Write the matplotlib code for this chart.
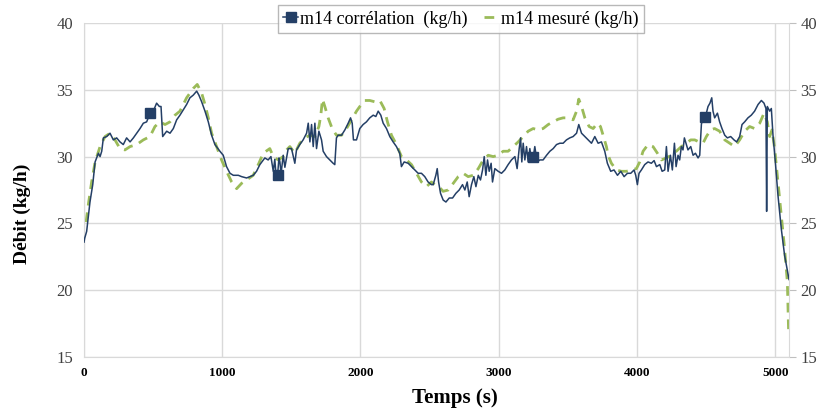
import matplotlib
matplotlib.use("Agg")
import matplotlib.pyplot as plt

plt.rcParams['font.family'] = ['Liberation Serif', 'DejaVu Serif']

# m14 corrélation (kg/h)
blue_t = [0, 5, 19, 43, 63, 80, 104, 116, 128, 140, 164, 188, 212, 236, 260, 284, 308, 333, 357, 381,
          405, 429, 453, 480, 501, 525, 545, 557, 569, 598, 622, 646, 670, 694, 718, 742, 766, 790, 815, 831,
          851, 875, 899, 923, 947, 983, 1007, 1031, 1056, 1080, 1116, 1140, 1176, 1200, 1224, 1248, 1272, 1308,
          1332, 1352, 1369, 1380, 1390, 1400, 1410, 1417, 1425, 1441, 1453, 1465, 1477, 1501, 1525, 1537, 1561,
          1585, 1610, 1622, 1634, 1646, 1658, 1670, 1682, 1699, 1718, 1730, 1754, 1778, 1802, 1814, 1826, 1838,
          1863, 1887, 1911, 1928, 1940, 1949, 1971, 1995, 2019, 2043, 2067, 2092, 2111, 2128, 2147, 2164, 2188,
          2212, 2236, 2260, 2284, 2296, 2316, 2345, 2369, 2393, 2417, 2441, 2465, 2489, 2513, 2526, 2545, 2555,
          2565, 2579, 2598, 2618, 2642, 2666, 2690, 2714, 2738, 2755, 2772, 2786, 2803, 2820, 2835, 2852, 2868,
          2883, 2895, 2907, 2919, 2931, 2945, 2955, 2972, 2996, 3020, 3044, 3068, 3092, 3117, 3133, 3148, 3158,
          3167, 3177, 3189, 3201, 3213, 3225, 3237, 3250, 3261, 3278, 3297, 3321, 3346, 3370, 3394, 3418, 3442,
          3466, 3490, 3514, 3538, 3563, 3579, 3599, 3623, 3647, 3671, 3695, 3719, 3743, 3767, 3786, 3810, 3834,
          3859, 3883, 3907, 3931, 3955, 3979, 3991, 4003, 4015, 4032, 4056, 4080, 4104, 4124, 4141, 4165, 4182,
          4201, 4213, 4225, 4242, 4256, 4271, 4283, 4297, 4309, 4321, 4333, 4343, 4357, 4369, 4389, 4406, 4423,
          4442, 4454, 4466, 4478, 4490, 4502, 4514, 4528, 4541, 4550, 4562, 4582, 4598, 4615, 4635, 4654, 4678,
          4702, 4721, 4743, 4760, 4779, 4803, 4827, 4851, 4876, 4900, 4919, 4933, 4938, 4943, 4960, 4972, 4984,
          5001, 5020, 5044, 5068, 5100]
blue_v = [23.6, 23.9, 24.4, 26.6, 27.9, 29.6, 30.25, 30.0, 30.4, 31.4, 31.5, 31.75, 31.25, 31.4, 31.1, 30.9, 31.4, 31.1, 31.4, 31.75,
          32.1, 32.5, 32.6, 33.3, 33.4, 34.0, 33.75, 33.75, 31.5, 31.9, 31.75, 32.1, 32.75, 33.1, 33.5, 33.9, 34.4, 34.6, 34.9, 34.6,
          34.1, 33.4, 32.6, 31.6, 30.9, 30.4, 30.1, 29.25, 28.75, 28.6, 28.6, 28.5, 28.4, 28.5, 28.6, 28.9, 29.4, 29.9,
          29.75, 30.0, 28.9, 29.8, 28.5, 28.6, 29.9, 29.6, 28.7, 30.1, 29.2, 29.9, 30.6, 30.6, 29.5, 30.5, 30.9,
          31.25, 31.75, 32.5, 31.1, 32.4, 30.75, 32.5, 30.6, 31.9, 31.25, 30.4, 30.0, 29.75, 29.5, 29.4, 31.4, 31.6,
          31.6, 32.0, 32.5, 32.9, 32.5, 31.25, 31.25, 32.1, 32.4, 32.6, 32.9, 33.1, 33.0, 33.4, 33.1, 32.5, 32.1,
          31.5, 31.1, 30.75, 30.25, 29.25, 29.6, 29.5, 29.25, 29.0, 28.75, 28.75, 28.5, 28.1, 27.9, 27.9, 28.6, 29.1,
          28.1, 27.25, 26.75, 26.6, 26.9, 26.9, 27.25, 27.5, 27.9, 27.5, 28.1, 27.0, 27.9, 28.5, 27.75, 28.6, 28.25,
          29.0, 30.0, 28.6, 29.75, 28.9, 29.5, 28.1, 29.1, 28.9, 28.75, 29.0, 29.4, 29.75, 30.0, 29.1, 30.6, 31.4,
          29.6, 31.0, 29.75, 30.75, 29.6, 30.6, 29.7, 30.0, 30.75, 29.6, 29.75, 29.75, 30.1, 30.4, 30.6, 30.9, 31.0,
          31.0, 31.25, 31.4, 31.5, 31.75, 32.4, 31.75, 31.5, 31.25, 31.0, 31.5, 31.0, 31.1, 30.4, 29.5, 28.9, 29.0,
          28.6, 28.9, 28.5, 28.75, 28.75, 29.0, 28.6, 27.9, 28.75, 29.0, 29.4, 29.6, 29.5, 29.7, 29.25, 29.4, 28.9,
          29.0, 30.75, 28.9, 30.1, 29.0, 31.0, 29.25, 30.1, 29.75, 30.75, 30.5, 31.4, 30.9, 30.5, 30.75, 30.1, 30.25,
          29.9, 30.1, 32.4, 33.1, 33.0, 33.25, 33.75, 34.0, 34.4, 33.4, 32.9, 33.25, 32.6, 32.1, 31.6, 31.4, 31.5,
          31.25, 31.1, 31.5, 32.4, 32.6, 32.9, 33.1, 33.4, 33.9, 34.2, 34.0, 33.6, 25.9, 33.75, 33.4, 33.6, 31.6,
          29.6, 27.1, 24.6, 22.6, 20.8]
marker_t = [480, 1400, 3250, 4490]

# m14 mesuré (kg/h)
green_t = [15, 31, 55, 80, 116, 152, 188, 224, 260, 296, 333, 381, 429, 477, 513, 549, 586, 622, 658, 694,
           742, 790, 819, 851, 875, 899, 923, 959, 995, 1031, 1068, 1104, 1140, 1176, 1224, 1265, 1296, 1344,
           1369, 1405, 1441, 1465, 1489, 1525, 1561, 1597, 1634, 1670, 1699, 1713, 1725, 1742, 1766, 1795, 1826,
           1863, 1899, 1935, 1971, 1995, 2031, 2067, 2104, 2140, 2171, 2195, 2224, 2260, 2296, 2333, 2369, 2405,
           2441, 2477, 2513, 2537, 2562, 2598, 2635, 2671, 2707, 2743, 2779, 2815, 2852, 2888, 2924, 2960, 2996,
           3032, 3068, 3105, 3141, 3177, 3213, 3249, 3285, 3321, 3358, 3394, 3430, 3466, 3502, 3538, 3563, 3579,
           3599, 3623, 3654, 3683, 3714, 3736, 3755, 3779, 3791, 3815, 3851, 3887, 3924, 3960, 3996, 4020, 4044,
           4080, 4116, 4148, 4177, 4213, 4249, 4285, 4321, 4357, 4389, 4418, 4449, 4478, 4502, 4533, 4562, 4598,
           4635, 4671, 4707, 4743, 4779, 4815, 4851, 4888, 4919, 4943, 4960, 4977, 4996, 5020, 5044, 5068, 5088,
           5097]
green_v = [25.1, 26.4, 28.1, 29.6, 30.75, 31.5, 31.75, 31.25, 30.6, 30.5, 30.75, 30.9, 31.25, 31.5, 32.25, 32.6, 32.4, 32.6, 33.1, 33.4,
           34.4, 35.1, 35.4, 34.75, 33.9, 32.9, 31.75, 30.75, 29.75, 28.9, 28.1, 27.6, 28.0, 28.25, 28.6, 29.5, 30.25, 30.6,
           30.0, 29.75, 30.0, 30.5, 30.75, 30.25, 31.0, 31.4, 31.6, 31.5, 32.25, 33.1, 34.3, 33.75, 32.9, 32.1, 31.6,
           31.6, 32.1, 32.75, 33.4, 33.75, 34.2, 34.2, 34.1, 34.2, 33.6, 32.6, 31.6, 30.9, 30.0, 29.75, 29.4, 28.75,
           28.1, 27.75, 28.1, 27.9, 27.8, 27.4, 27.5, 28.0, 28.5, 28.75, 28.5, 28.6, 29.1, 29.75, 30.1, 30.0, 30.1,
           30.4, 30.4, 30.75, 31.1, 31.5, 31.9, 32.1, 32.0, 32.1, 32.4, 32.6, 32.8, 32.9, 32.9, 32.75, 33.4, 34.3,
           33.75, 32.9, 32.25, 32.1, 32.5, 32.25, 31.6, 30.75, 30.1, 29.5, 29.0, 28.9, 28.9, 29.0, 29.1, 29.6, 30.4,
           30.9, 30.75, 30.25, 29.75, 29.9, 30.1, 30.4, 30.75, 31.0, 31.25, 31.25, 31.1, 31.0, 31.5, 32.0, 32.1, 31.9,
           31.25, 31.0, 30.75, 31.25, 31.9, 32.25, 32.1, 32.5, 33.25, 32.6, 31.5, 32.0, 30.6, 28.1, 25.6, 23.1, 20.6,
           16.9]

y_ticks = [15, 20, 25, 30, 35, 40]
x_ticks = [0, 1000, 2000, 3000, 4000, 5000]

blue = '#243f66'
green = '#9bbb59'
grid_c = '#d9d9d9'

fig = plt.figure(figsize=(8.19, 4.12), dpi=100)
ax = fig.add_axes([0.1026, 0.1335, 0.8608, 0.8107])

marks = [blue_t.index(t) for t in marker_t]
ax.plot(blue_t, blue_v, color=blue, lw=1.1, marker='s', markersize=7,
        markevery=marks, label='m14 corrélation  (kg/h)', zorder=3)
ax.plot(green_t, green_v, color=green, lw=2, dashes=(3.5, 2.5),
        label='m14 mesuré (kg/h)', zorder=2)

ax.set_xlim(0, 5100)
ax.set_ylim(15, 40)
ax.set_xticks(x_ticks)
ax.set_yticks(y_ticks)
ax.grid(True, color=grid_c, lw=1)
ax.set_axisbelow(True)
for s in ax.spines.values():
    s.set_color(grid_c)
ax.spines['top'].set_visible(False)

ax.tick_params(axis='y', left=False, right=True, labelleft=True, labelright=True,
               direction='out', length=5, color='#bfbfbf', labelsize=12, labelcolor='#404040', pad=3)
ax.tick_params(axis='x', bottom=False, labelsize=9.5, pad=4)
for lb in ax.get_xticklabels():
    lb.set_fontweight('bold')

ax.set_xlabel('Temps (s)', fontsize=15, fontweight='bold')
ax.set_ylabel('Débit (kg/h)', fontsize=14, fontweight='bold')
ax.xaxis.set_label_coords(0.526, -0.092)
ax.yaxis.set_label_coords(-0.075, 0.428)

leg = fig.legend(loc='center', bbox_to_anchor=(0.563, 0.954), ncol=2, fontsize=13,
                 frameon=True, fancybox=False, edgecolor='#a6a6a6', handlelength=0.8,
                 handletextpad=0.15, columnspacing=0.9, borderpad=0.3)
leg.get_frame().set_linewidth(1)

fig.savefig('out.png', dpi=100)
